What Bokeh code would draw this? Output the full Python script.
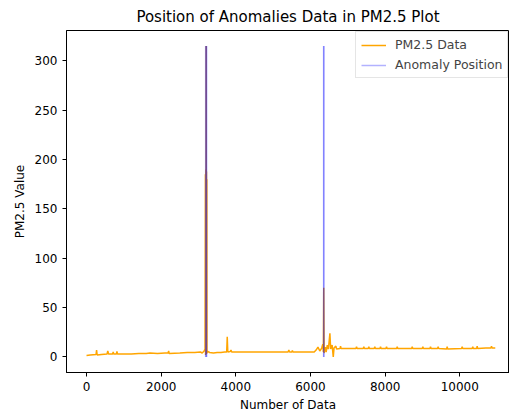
from bokeh.plotting import figure
from bokeh.models import Range1d, FixedTicker
from bokeh.embed import file_html
from bokeh.resources import INLINE

# Sample index (Number of Data) and PM2.5 values
idx = [0, 100, 255, 270, 285, 400, 550, 570, 590, 700, 715, 730, 800, 815, 830,
       1000, 1200, 1400, 1600, 1700, 1900, 2100, 2185, 2200, 2215, 2500, 2700,
       2900, 3050, 3100, 3150, 3175,
       3185, 3190, 3196, 3200, 3205, 3210, 3214, 3218, 3224, 3228, 3232,
       3300, 3400, 3500, 3600, 3700, 3755, 3770, 3785,
       3850, 3870, 3890, 3950, 5400, 5420, 5440, 5500, 5515, 5530, 5700, 5900,
       6100, 6150, 6200, 6250, 6300, 6330, 6345, 6355, 6365, 6400, 6420,
       6450, 6480, 6520, 6540, 6580, 6610, 6630, 6680, 6700,
       6790, 6805, 6820, 7100,
       7218, 7233, 7248, 7414, 7429, 7444, 7548, 7563, 7578,
       7708, 7723, 7738, 7861, 7876, 7891, 8022, 8037, 8052,
       8308, 8323, 8338, 8710, 8725, 8740, 8995, 9010, 9025,
       9200, 9215, 9230, 9405, 9420, 9435, 9646, 9661, 9676,
       10048, 10063, 10078, 10332, 10347, 10362, 10450, 10465, 10480,
       10700, 10834, 10849, 10864, 10950]
pm25 = [1.5, 2.0, 2.5, 7.0, 2.0, 2.5, 3.0, 6.0, 3.0, 3.0, 5.0, 3.0, 3.0, 5.5, 3.0,
        3.0, 3.0, 3.5, 3.5, 4.0, 3.5, 4.0, 4.0, 6.0, 3.5, 4.0, 4.5,
        4.5, 5.0, 4.0, 6.0, 8.0,
        185.0, 2.0, 190.0, 3.0, 315.0, 5.0, 188.0, 3.0, 180.0, 4.0, 6.0,
        4.5, 4.0, 4.5, 4.5, 5.0, 5.0, 20.5, 5.0,
        5.5, 7.0, 5.0, 5.0, 5.0, 7.0, 5.0, 5.0, 6.5, 5.0, 5.0, 5.0,
        5.0, 7.0, 10.0, 6.0, 9.0, 13.0, 5.0, 70.0, 4.0, 10.0, 5.0,
        12.0, 8.0, 24.0, 8.0, 12.0, 0.0, 9.0, 11.0, 8.0,
        8.5, 11.0, 8.5, 8.5,
        8.5, 10.5, 8.5, 8.5, 10.5, 8.5, 8.5, 10.5, 8.5,
        8.5, 10.5, 8.5, 8.5, 10.5, 8.5, 8.5, 10.5, 8.5,
        8.5, 10.5, 8.5, 8.5, 10.5, 8.5, 8.5, 10.5, 8.5,
        8.5, 10.5, 8.5, 8.5, 10.5, 8.5, 8.0, 10.5, 8.0,
        8.5, 10.5, 8.5, 8.5, 10.5, 8.5, 8.5, 11.0, 8.5,
        9.0, 9.0, 11.0, 9.0, 9.0]

# Anomaly positions (indices)
anomaly_idx = [3192, 3205, 3218, 6352, 6358]

x_ticks = [0, 2000, 4000, 6000, 8000, 10000]
y_ticks = [0, 50, 100, 150, 200, 250, 300]

FONT = "DejaVu Sans"

p = figure(width=509, height=416, output_backend="svg", toolbar_location=None,
           title="Position of Anomalies Data in PM2.5 Plot",
           x_range=Range1d(-536, 11331), y_range=Range1d(-15.75, 330.75),
           min_border_left=66, min_border_right=0, min_border_top=30,
           min_border_bottom=44)

p.line(idx, pm25, line_color="orange", line_width=1.5, legend_label="PM2.5 Data")

ymin = min(pm25)
ymax = max(pm25)
p.segment(x0=anomaly_idx, y0=[ymin] * len(anomaly_idx),
          x1=anomaly_idx, y1=[ymax] * len(anomaly_idx),
          line_color="blue", line_alpha=0.3, line_width=1.5,
          legend_label="Anomaly Position")

p.title.text_font = FONT
p.title.text_font_size = "15px"
p.title.text_font_style = "normal"
p.title.align = "center"
p.title.offset = 2
p.title.text_color = "#000000"

p.xgrid.visible = False
p.ygrid.visible = False
p.outline_line_color = "black"
p.outline_line_width = 1

for ax in (p.xaxis[0], p.yaxis[0]):
    ax.major_label_text_font = FONT
    ax.major_label_text_font_size = "12px"
    ax.major_label_text_color = "#000000"
    ax.axis_label_text_font = FONT
    ax.axis_label_text_font_size = "12px"
    ax.axis_label_text_font_style = "normal"
    ax.axis_label_text_color = "#000000"
    ax.major_tick_in = 0
    ax.major_tick_out = 4
    ax.minor_tick_in = 0
    ax.minor_tick_out = 0
    ax.axis_line_color = "black"
    ax.major_tick_line_color = "black"

p.xaxis.ticker = FixedTicker(ticks=x_ticks)
p.yaxis.ticker = FixedTicker(ticks=y_ticks)
p.xaxis.axis_label = "Number of Data"
p.yaxis.axis_label = "PM2.5 Value"
p.xaxis.axis_label_standoff = 4
p.yaxis.axis_label_standoff = 5

p.legend.location = (289, 294)
p.legend.label_text_font = FONT
p.legend.label_text_font_size = "12.5px"
p.legend.glyph_width = 25
p.legend.glyph_height = 14
p.legend.label_height = 14
p.legend.label_standoff = 9
p.legend.spacing = 5
p.legend.padding = 5
p.legend.margin = 0
p.legend.border_line_color = "#cccccc"
p.legend.background_fill_alpha = 0.8

open("out.html", "w").write(file_html(p, INLINE))
